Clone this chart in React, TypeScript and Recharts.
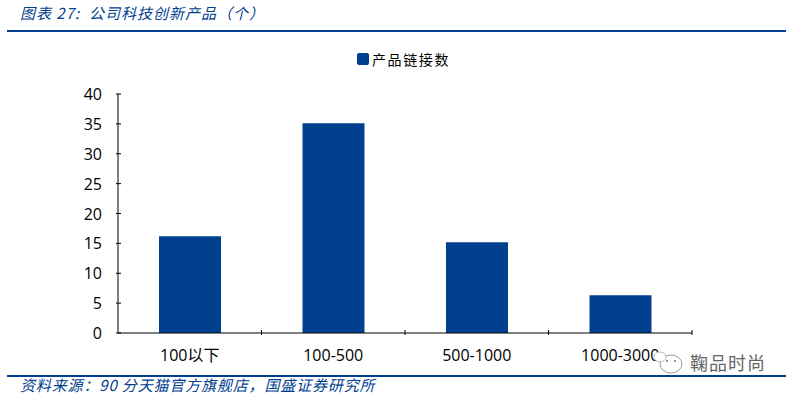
import React from "react"
import { BarChart, Bar, XAxis, YAxis, Legend } from "recharts"

const categories = ["100以下", "100-500", "500-1000", "1000-3000"]
const linkCounts = [16.2, 35.1, 15.2, 6.3]
const yTicks = [0, 5, 10, 15, 20, 25, 30, 35, 40]
const seriesName = "产品链接数"
const titleText = "图表 27:  公司科技创新产品（个）"
const sourceText = "资料来源：90 分天猫官方旗舰店，国盛证券研究所"
const watermarkText = "鞠品时尚"

const chartData = categories.map((name, i) => ({ name, value: linkCounts[i] }))

const BLUE = "#00408F"
const tickFont = "'Open Sans', 'Noto Sans CJK SC', sans-serif"
const cjkFont = "'Noto Sans CJK SC', sans-serif"
const bandWidth = 143.5

function YTick({ x, y, payload }: any) {
  return (
    <g>
      <line x1={x} x2={x + 5} y1={y} y2={y} stroke="#000" />
      <text x={x - 14} y={y} dy={6} textAnchor="end" fontSize={16} fontFamily={tickFont} fill="#000">
        {payload.value}
      </text>
    </g>
  )
}

function XTick({ x, y, payload, index }: any) {
  const left = x - bandWidth / 2
  return (
    <g>
      {index > 0 && <line x1={left} x2={left} y1={y} y2={y - 5} stroke="#000" />}
      {index === categories.length - 1 && (
        <line x1={x + bandWidth / 2} x2={x + bandWidth / 2} y1={y} y2={y - 5} stroke="#000" />
      )}
      <text x={x} y={y + 26} textAnchor="middle" fontSize={16} fontFamily={tickFont} fill="#000">
        {payload.value}
      </text>
    </g>
  )
}

function LegendContent() {
  return (
    <div style={{ display: "flex", alignItems: "center", justifyContent: "center", fontFamily: cjkFont, fontSize: 14, color: "#000", marginLeft: 16 }}>
      <span style={{ width: 12, height: 12, borderRadius: 2, background: BLUE, marginRight: 3 }} />
      <span style={{ letterSpacing: 1.6 }}>{seriesName}</span>
    </div>
  )
}

function Watermark() {
  return (
    <div style={{ position: "absolute", left: 652, top: 348, display: "flex", alignItems: "center" }}>
      <svg width={36} height={28} viewBox="0 0 36 28">
        <ellipse cx="19" cy="16" rx="11" ry="9" fill="#fff" stroke="#999" />
        <ellipse cx="8" cy="9" rx="6" ry="5" fill="#fff" stroke="#bbb" />
        <circle cx="15" cy="13" r="1" fill="#777" />
        <circle cx="23" cy="13" r="1" fill="#777" />
      </svg>
      <span style={{ fontFamily: cjkFont, fontSize: 18, color: "#666", marginLeft: 2, letterSpacing: 1 }}>{watermarkText}</span>
    </div>
  )
}

export default function App() {
  return (
    <div style={{ position: "absolute", left: 0, top: 0, width: 791, height: 396, background: "#fff", overflow: "hidden" }}>
      <div style={{ position: "absolute", left: 20, top: 2, fontFamily: cjkFont, fontStyle: "italic", fontSize: 15, letterSpacing: 1, color: BLUE, whiteSpace: "pre" }}>
        {titleText}
      </div>
      <div style={{ position: "absolute", left: 7, top: 30, width: 779, height: 2, background: BLUE }} />
      <BarChart
        width={791}
        height={396}
        data={chartData}
        barSize={62}
        margin={{ top: 74, right: 99, bottom: 0, left: 78 }}
      >
        <Legend verticalAlign="top" content={<LegendContent />} wrapperStyle={{ top: 49, left: 0, width: 791 }} />
        <XAxis dataKey="name" axisLine={{ stroke: "#000" }} tickLine={false} tick={<XTick />} interval={0} height={63} tickSize={0} />
        <YAxis width={40} domain={[0, 40]} ticks={yTicks} axisLine={{ stroke: "#000" }} tickLine={false} tick={<YTick />} tickSize={0} interval={0} />
        <Bar dataKey="value" name={seriesName} fill={BLUE} isAnimationActive={false} />
      </BarChart>
      <div style={{ position: "absolute", left: 7, top: 375, width: 779, height: 2, background: BLUE }} />
      <div style={{ position: "absolute", left: 20, top: 374, fontFamily: cjkFont, fontStyle: "italic", fontSize: 15, letterSpacing: 0.85, color: BLUE, whiteSpace: "pre" }}>
        {sourceText}
      </div>
      <Watermark />
    </div>
  )
}
